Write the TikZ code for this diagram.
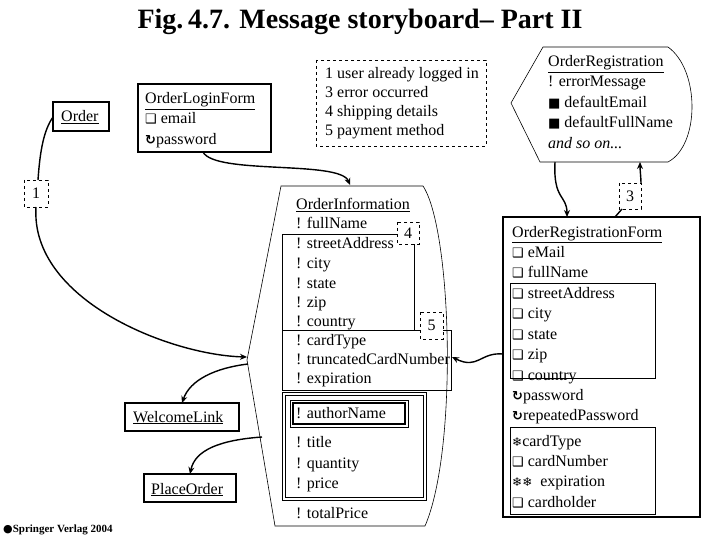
\documentclass[tikz,border=0pt]{standalone}
\usepackage{fontspec}
\setmainfont{Liberation Serif}
\newfontfamily\dejavu{DejaVu Sans}
\usetikzlibrary{arrows.meta}
\newcommand\chk{{\dejavu\fontsize{13}{13}\selectfont ❑}}
\newcommand\pwd{{\dejavu\bfseries\fontsize{13}{13}\selectfont ↻}}
\newcommand\blk{{\dejavu\fontsize{13}{13}\selectfont ■}}
\newcommand\snw{{\dejavu\fontsize{12}{12}\selectfont ❄}}
\begin{document}
\begin{tikzpicture}[x=1pt,y=-1pt,
  txt/.style={anchor=base west,inner sep=0pt,font=\fontsize{16}{18}\selectfont},
  box/.style={draw,line width=1.6pt},
  thin/.style={draw,line width=0.6pt},
  dbox/.style={draw,dashed,line width=0.6pt},
  con/.style={line width=1.4pt},
  arr/.style={con,-{Stealth[length=7pt,width=6pt]}}]
\useasboundingbox (0,0) rectangle (720,540);
\node[font=\bfseries\fontsize{28}{30}\selectfont] (title) at (360,22) {Fig.\,4.7. Message storyboard– Part II};

% left elements
\draw[box] (53,102) rectangle (109,131);
\node[txt] (order) at (61,122) {\underline{Order}};
\coordinate (orderL) at (53,117);
\draw[box] (138,84) rectangle (271,152);
\node[txt] (olf1) at (145,104) {\underline{OrderLoginForm}};
\node[txt] (olf2) at (145,124) {\chk\ email};
\node[txt] (olf3) at (145,145) {\pwd password};
\coordinate (olfB) at (203,152);
\draw[dbox] (24,180) rectangle (48,207);
\node (one) at (36,193.5) {\fontsize{16}{18}\selectfont 1};
\coordinate (oneT) at (38,180);
\coordinate (oneB) at (36,207);
\draw[box] (125,403) rectangle (239,431);
\node[txt] (wl) at (133,422) {\underline{WelcomeLink}};
\coordinate (wlT) at (182,403);
\draw[box] (144,474) rectangle (236,502);
\node[txt] (po) at (151,494) {\underline{PlaceOrder}};
\coordinate (poT) at (190,474);

% notes
\draw[dbox] (316,60) rectangle (486,146);
\node[txt] (n1) at (325,79) {1 user already logged in};
\node[txt] (n2) at (325,98) {3 error occurred};
\node[txt] (n3) at (325,117) {4 shipping details};
\node[txt] (n4) at (325,136) {5 payment method};

% OrderInformation shape
\draw[line width=0.6pt] (281,186) -- (423,186) .. controls (452,230) and (458,450) .. (425,526) -- (275,526) -- (247,360) -- cycle;
\coordinate (oiT) at (350,185);
\coordinate (oiL) at (247,357);
\coordinate (oiL2) at (248,364);
\coordinate (oiL3) at (262,437);
\coordinate (oiR) at (452,357);
\node[txt] (oi0) at (296,210) {\underline{OrderInformation}};
\node[txt] (oi1) at (296,229) {! fullName};
\draw[thin] (282,234) rectangle (414,330);
\draw[thin] (282,330) rectangle (451,390);
\draw[dbox,fill=white] (397,222) rectangle (419,244);
\node (four) at (408,233) {\fontsize{16}{18}\selectfont 4};
\draw[dbox,fill=white] (420,312) rectangle (443,339);
\node (five) at (431.5,325.5) {\fontsize{16}{18}\selectfont 5};
\node[txt] (oi2) at (296,248) {! streetAddress};
\node[txt] (oi3) at (296,268) {! city};
\node[txt] (oi4) at (296,288) {! state};
\node[txt] (oi5) at (296,307) {! zip};
\node[txt] (oi6) at (296,326) {! country};
\node[txt] (oi7) at (296,345) {! cardType};
\node[txt] (oi8) at (296,364) {! truncatedCardNumber};
\node[txt] (oi9) at (296,383) {! expiration};
\draw[thin] (282,392) rectangle (426,500);
\draw[thin] (285,395) rectangle (423,497);
\draw[line width=0.6pt] (290,400) rectangle (408,427);
\draw[line width=1.6pt] (293,403) rectangle (405,424);
\node[txt] (an) at (296,418) {! authorName};
\node[txt] (t1) at (296,447) {! title};
\node[txt] (t2) at (296,468) {! quantity};
\node[txt] (t3) at (296,488) {! price};
\node[txt] (tp) at (296,518) {! totalPrice};

% OrderRegistration shape
\draw[line width=0.6pt] (543,47) -- (668,47) .. controls (700,70) and (700,145) .. (668,162) -- (540,162) -- (511,103) -- cycle;
\node[txt] (or0) at (548,67) {\underline{OrderRegistration}};
\node[txt] (or1) at (548,87) {! errorMessage};
\node[txt] (or2) at (548,108) {\blk\ defaultEmail};
\node[txt] (or3) at (548,128) {\blk\ defaultFullName};
\node[txt] (or4) at (548,149) {\itshape and so on...};
\coordinate (orB1) at (555,162);
\coordinate (orB2) at (640,162);

% OrderRegistrationForm
\draw[box] (503,217) rectangle (700,517);
\coordinate (orfT1) at (567,217);
\coordinate (orfT2) at (615,217);
\coordinate (orfL) at (503,354);
\draw[thin] (510,283) rectangle (655,378);
\draw[thin] (510,427) rectangle (655,514);
\draw[dbox,fill=white] (619,183) rectangle (641,209);
\node (three) at (630,196) {\fontsize{16}{18}\selectfont 3};
\node[txt] (f0) at (512,237) {\underline{OrderRegistrationForm}};
\node[txt] (f1) at (512,257) {\chk\ eMail};
\node[txt] (f2) at (512,277) {\chk\ fullName};
\node[txt] (f3) at (512,298) {\chk\ streetAddress};
\node[txt] (f4) at (512,318) {\chk\ city};
\node[txt] (f5) at (512,339) {\chk\ state};
\node[txt] (f6) at (512,359) {\chk\ zip};
\node[txt] (f7) at (512,380) {\chk\ country};
\node[txt] (f8) at (512,400) {\pwd password};
\node[txt] (f9) at (512,420) {\pwd repeatedPassword};
\node[txt] (g1) at (512,446) {\snw cardType};
\node[txt] (g2) at (512,466) {\chk\ cardNumber};
\node[txt] (g3) at (512,486) {\snw\snw\ \ expiration};
\node[txt] (g4) at (512,507) {\chk\ cardholder};

% connectors
\draw[con] (orderL) .. controls (44,130) and (40,150) .. (oneT);
\draw[arr] (oneB) .. controls (30,300) and (170,355) .. (oiL);
\draw[arr] (oiL2) .. controls (215,368) and (190,380) .. (wlT);
\draw[arr] (oiL3) .. controls (220,440) and (195,450) .. (poT);
\draw[arr] (olfB) .. controls (215,175) and (340,160) .. (oiT);
\draw[arr] (orfL) .. controls (480,352) and (478,370) .. (oiR);
\draw[arr] (orB1) .. controls (553,200) and (567,195) .. (orfT1);
\draw[arr] (orfT2) -- (622,209) (641,183) .. controls (641,178) and (640,170) .. (orB2);

\node[anchor=base west,inner sep=0pt,font=\bfseries\fontsize{11}{12}\selectfont] (spr) at (3,532) {{\dejavu ●}Springer Verlag 2004};
\end{tikzpicture}
\end{document}
